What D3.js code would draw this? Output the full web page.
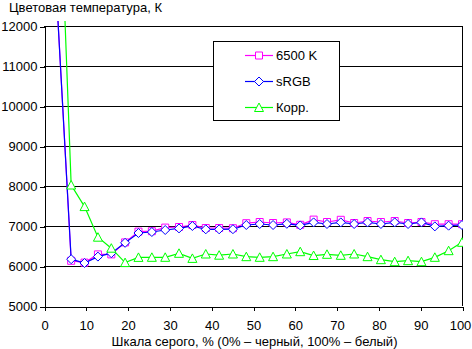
<!DOCTYPE html>
<html>
<head>
<meta charset="utf-8">
<script src="https://cdn.jsdelivr.net/npm/d3@7/dist/d3.min.js"></script>
<style>
  body { margin: 0; background: #fff; }
  svg { display: block; }
  text { font-family: "Liberation Sans", Arial, sans-serif; font-size: 13px; fill: #000; }
</style>
</head>
<body>
<svg id="chart" width="472" height="349"></svg>
<script>
// Grey-scale step, % (0% = black, 100% = white)
const grayLevels = [0, 3.2, 6.5, 9.7, 12.9, 16.1, 19.4, 22.6, 25.8, 29.0, 32.3, 35.5,
  38.7, 41.9, 45.2, 48.4, 51.6, 54.8, 58.1, 61.3, 64.5, 67.7, 71.0, 74.2,
  77.4, 80.6, 83.9, 87.1, 90.3, 93.5, 96.8, 100];

// Colour temperature, K (null = not measured)
const temp6500 = [null, 12400, 6130, 6085, 6290, 6290, 6590, 6860, 6870, 6960, 6975, 7025,
  6950, 6950, 6945, 7070, 7100, 7075, 7090, 7030, 7160, 7100, 7155, 7075,
  7125, 7100, 7125, 7075, 7100, 7045, 7045, 7045];
const tempSRGB = [null, 12400, 6170, 6075, 6235, 6320, 6580, 6825, 6850, 6900, 6940, 7000,
  6917, 6917, 6920, 7025, 7050, 7025, 7055, 7015, 7090, 7050, 7090, 7050,
  7090, 7050, 7090, 7050, 7090, 6990, 7008, 7025];
const tempCorr = [null, 17200, 8025, 7485, 6720, 6445, 6085, 6215, 6217, 6217, 6317, 6190,
  6300, 6270, 6300, 6233, 6217, 6233, 6300, 6358, 6262, 6292, 6267, 6300,
  6233, 6158, 6108, 6133, 6108, 6217, 6383, 6592];

const seriesNames = ["6500 K", "sRGB", "Корр."];
const seriesColors = ["#ff00ff", "#0000ff", "#00ff00"];
const yTicks = [5000, 6000, 7000, 8000, 9000, 10000, 11000, 12000];
const xTicks = [0, 10, 20, 30, 40, 50, 60, 70, 80, 90, 100];

const titleText = "Цветовая температура, К";
const xTitleText = "Шкала серого, % (0% – черный, 100% – белый)";

const svg = d3.select("#chart");
const x = d3.scaleLinear().domain([0, 100]).range([44, 462]);
const y = d3.scaleLinear().domain([5000, 12000]).range([306, 26]);

// Horizontal gridlines
svg.append("g")
  .attr("shape-rendering", "crispEdges")
  .selectAll("line")
  .data(yTicks.filter(v => v > 5000))
  .join("line")
  .attr("x1", x(0)).attr("x2", x(100))
  .attr("y1", d => y(d) + 0.5).attr("y2", d => y(d) + 0.5)
  .attr("stroke", "#000");

// Right border of the plot area
svg.append("line")
  .attr("shape-rendering", "crispEdges")
  .attr("x1", x(100) + 0.5).attr("x2", x(100) + 0.5)
  .attr("y1", y(12000)).attr("y2", y(5000))
  .attr("stroke", "#000");

// Axes
const yAxis = svg.append("g")
  .attr("transform", `translate(${x(0) + 0.5},0.5)`)
  .call(d3.axisLeft(y).tickValues(yTicks).tickFormat(d3.format("d"))
    .tickSize(5).tickSizeOuter(0).tickPadding(2));
const xAxis = svg.append("g")
  .attr("transform", `translate(0.5,${y(5000) + 0.5})`)
  .call(d3.axisBottom(x).tickValues(xTicks).tickFormat(d3.format("d"))
    .tickSize(4).tickSizeOuter(0).tickPadding(10));
[yAxis, xAxis].forEach(g => {
  g.attr("font-family", null).attr("font-size", null);
  g.selectAll("path,line").attr("stroke", "#000").attr("shape-rendering", "crispEdges");
  g.selectAll("text").attr("fill", "#000");
});
// keep the last x label inside the canvas
xAxis.selectAll(".tick").filter(d => d === 100).select("text").attr("dx", -2.5);

// Titles
svg.append("text").attr("x", 9).attr("y", 12).text(titleText);
svg.append("text").attr("x", 254.5).attr("y", 346).attr("text-anchor", "middle").text(xTitleText);

// Marker shapes
const markerPaths = [
  "M-3.5,-3.5H3.5V3.5H-3.5Z",
  "M0,-4.5L4.5,0L0,4.5L-4.5,0Z",
  "M0,-4.5L4.5,4L-4.5,4Z"
];

// Plot clip
svg.append("defs").append("clipPath").attr("id", "plotClip")
  .append("rect").attr("x", x(0)).attr("y", 21).attr("width", x(100) - x(0) + 1).attr("height", 290);

const allSeries = [temp6500, tempSRGB, tempCorr];
const plot = svg.append("g").attr("clip-path", "url(#plotClip)");

allSeries.forEach((vals, i) => {
  const pts = vals.map((v, k) => ({ g: grayLevels[k], v })).filter(p => p.v !== null);
  const line = d3.line().x(p => x(p.g)).y(p => y(p.v));
  const g = plot.append("g");
  g.append("path")
    .attr("d", line(pts))
    .attr("fill", "none")
    .attr("stroke", seriesColors[i])
    .attr("stroke-width", 1.2);
  g.selectAll("path.m")
    .data(pts.filter(p => p.v <= 12000))
    .join("path")
    .attr("class", "m")
    .attr("d", markerPaths[i])
    .attr("transform", p => `translate(${x(p.g)},${y(p.v)})`)
    .attr("fill", "#fff")
    .attr("stroke", seriesColors[i])
    .attr("stroke-width", 1);
});

// Legend
const legend = svg.append("g");
legend.append("rect")
  .attr("x", 213.5).attr("y", 41.5).attr("width", 126).attr("height", 79)
  .attr("fill", "#fff").attr("stroke", "#000");
const rowY = [55, 81, 107];
seriesNames.forEach((name, i) => {
  const row = legend.append("g").attr("transform", `translate(0,${rowY[i]})`);
  row.append("line").attr("x1", 245).attr("x2", 273).attr("y1", 0.5).attr("y2", 0.5)
    .attr("stroke", seriesColors[i]).attr("stroke-width", 1.2);
  row.append("path").attr("d", markerPaths[i])
    .attr("transform", "translate(259,0.5)")
    .attr("fill", "#fff").attr("stroke", seriesColors[i]);
  row.append("text").attr("x", 276).attr("y", 4.5).text(name);
});
</script>
</body>
</html>
